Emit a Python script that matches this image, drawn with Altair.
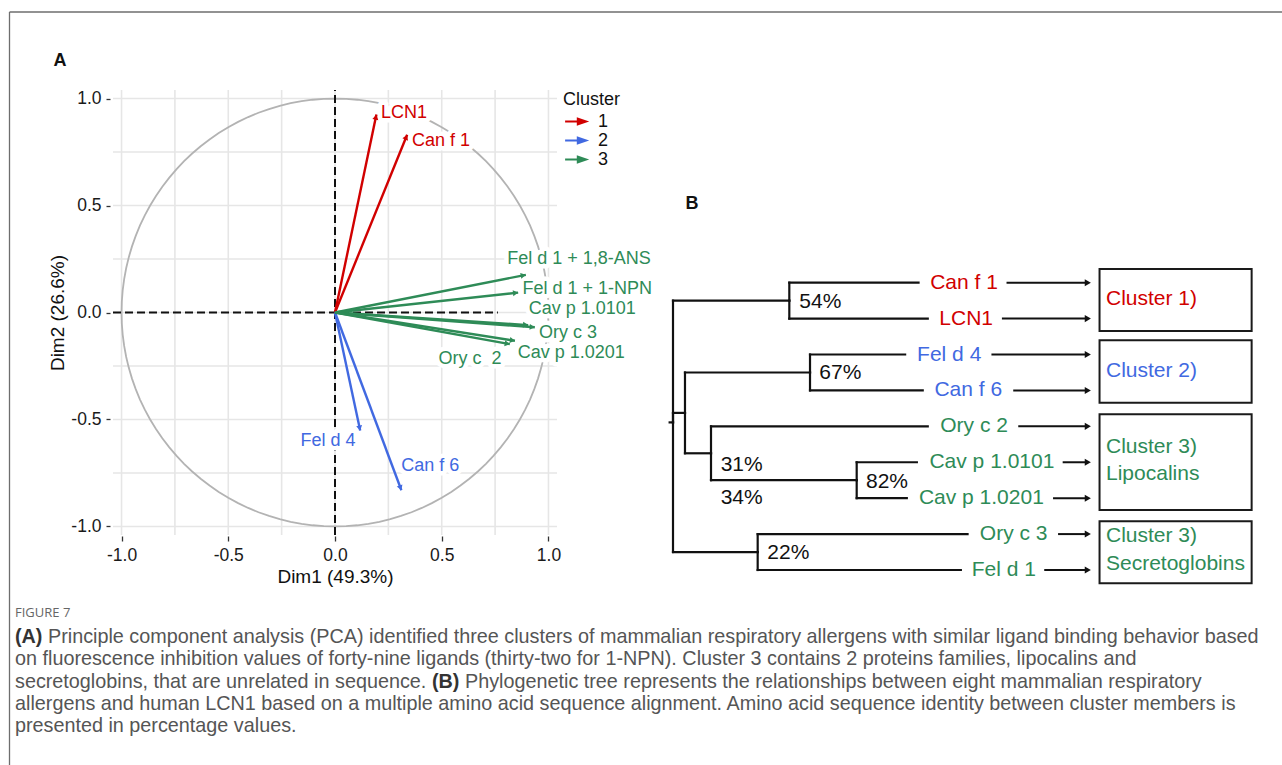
import altair as alt
import pandas as pd

FONT = "Liberation Sans"
CAP_FONT = "Liberation Sans"

cluster_names = ["1", "2", "3"]
cluster_colors = ["#D10000", "#4169E1", "#2E8B57"]

# ---------------- Panel A: PCA variable plot ----------------
var_names = ["LCN1", "Can f 1", "Fel d 4", "Can f 6", "Fel d 1 + 1,8-ANS",
             "Fel d 1 + 1-NPN", "Cav p 1.0101", "Ory c 3", "Cav p 1.0201", "Ory c\u00a0\u00a02"]
var_cluster = ["1", "1", "2", "2", "3", "3", "3", "3", "3", "3"]
dim1 = [0.194, 0.338, 0.118, 0.311, 0.894, 0.858, 0.905, 0.936, 0.843, 0.819]
dim2 = [0.925, 0.831, -0.552, -0.831, 0.176, 0.093, -0.059, -0.069, -0.132, -0.148]
label_dim1 = [0.323, 0.497, -0.033, 0.446, 1.143, 1.182, 1.158, 1.092, 1.107, 0.632]
label_dim2 = [0.933, 0.800, -0.599, -0.719, 0.251, 0.110, 0.0155, -0.096, -0.191, -0.219]

major_breaks = [-1.0, -0.5, 0.0, 0.5, 1.0]
minor_breaks = [-0.75, -0.25, 0.25, 0.75]
axis_limits = [-1.04, 1.04]
hline_extent = [-1.04, 0.763]

# ---------------- Panel B: tree ----------------
leaf_names = ["Can f 1", "LCN1", "Fel d 4", "Can f 6", "Ory c 2",
              "Cav p 1.0101", "Cav p 1.0201", "Ory c 3", "Fel d 1"]
leaf_cluster = ["1", "1", "2", "2", "3", "3", "3", "3", "3"]
leaf_pos = [0, 1, 2, 3, 4, 5, 6, 7, 8]
leaf_parent = ["n54", "n54", "n67", "n67", "n31", "n82", "n82", "n22", "n22"]
leaf_branch_end = [0.586, 0.608, 0.554, 0.596, 0.608, 0.582, 0.558, 0.703, 0.687]
leaf_label_x = [0.6945, 0.6997, 0.6592, 0.7048, 0.7186, 0.7611, 0.736, 0.8131, 0.7897]
leaf_arrow_start = [0.796, 0.785, 0.760, 0.812, 0.824, 0.930, 0.907, 0.919, 0.886]
arrow_tip = 0.99

node_names = ["root", "n54", "nA", "n67", "n31", "n82", "n22"]
node_depth = [0.0, 0.2776, 0.0286, 0.327, 0.0907, 0.4384, 0.2021]
node_pos = [3.89, 0.5, 3.625, 2.5, 4.75, 5.5, 7.5]
node_parent = ["", "root", "root", "nA", "nA", "n31", "root"]
root_stub = -0.008

pct_labels = ["54%", "67%", "31%", "34%", "82%", "22%"]
pct_x = [0.3014, 0.3492, 0.1138, 0.1138, 0.4606, 0.2251]
pct_y = [0.546, 2.524, 5.078, 6.006, 5.543, 7.538]

box_x0 = [1.018, 1.018, 1.018, 1.018]
box_x1 = [1.381, 1.381, 1.381, 1.381]
box_y0 = [-0.38, 1.60, 3.66, 6.64]
box_y1 = [1.345, 3.34, 6.33, 8.37]
box_text = ["Cluster 1)", "Cluster 2)", "Cluster 3)", "Lipocalins", "Cluster 3)", "Secretoglobins"]
box_text_cluster = ["1", "2", "3", "3", "3", "3"]
box_text_y = [0.45, 2.45, 4.57, 5.33, 7.06, 7.82]
box_text_x = [1.0334] * 6

# ---------------- Caption ----------------
caption_regular = [
    "Principle component analysis (PCA) identified three clusters of mammalian respiratory allergens with similar ligand binding behavior based",
    "on fluorescence inhibition values of forty-nine ligands (thirty-two for 1-NPN). Cluster 3 contains 2 proteins families, lipocalins and",
    "secretoglobins, that are unrelated in sequence.",
    "Phylogenetic tree represents the relationships between eight mammalian respiratory",
    "allergens and human LCN1 based on a multiple amino acid sequence alignment. Amino acid sequence identity between cluster members is",
    "presented in percentage values.",
]
caption_regular_line = [0, 1, 2, 2, 3, 4]
caption_regular_x = [48, 15, 15, 465, 15, 15]
caption_bold = ["(A)", "(B)"]
caption_bold_line = [0, 2]
caption_bold_x = [15, 432]

# ---------------- Data frames ----------------
pca_df = pd.DataFrame({"name": var_names, "cluster": var_cluster, "d1": dim1, "d2": dim2,
                       "lx": label_dim1, "ly": label_dim2, "ox": 0.0, "oy": 0.0})

grid_rows = []
for v in major_breaks + minor_breaks:
    grid_rows.append({"x1": v, "x2": v, "y1": axis_limits[0], "y2": axis_limits[1]})
    grid_rows.append({"x1": axis_limits[0], "x2": axis_limits[1], "y1": v, "y2": v})
grid_df = pd.DataFrame(grid_rows)

dash_df = pd.DataFrame({"x1": [hline_extent[0], 0.0], "x2": [hline_extent[1], 0.0],
                        "y1": [0.0, axis_limits[0]], "y2": [0.0, axis_limits[1]]})

pos = {n: (x, y) for n, x, y in zip(node_names, node_depth, node_pos)}
parents = dict(zip(node_names, node_parent))
for n, x, y, p in zip(leaf_names, leaf_branch_end, leaf_pos, leaf_parent):
    pos[n] = (x, y)
    parents[n] = p
seg_rows = []
for n, (x, y) in pos.items():
    p = parents[n]
    if p:
        px, py = pos[p]
        seg_rows.append({"x1": px, "x2": x, "y1": y, "y2": y})
        seg_rows.append({"x1": px, "x2": px, "y1": py, "y2": y})
    else:
        seg_rows.append({"x1": root_stub, "x2": x, "y1": y, "y2": y})
seg_df = pd.DataFrame(seg_rows)

leaf_df = pd.DataFrame({"name": leaf_names, "cluster": leaf_cluster, "pos": leaf_pos,
                        "lx": leaf_label_x, "a0": leaf_arrow_start, "a1": arrow_tip})
pct_df = pd.DataFrame({"t": pct_labels, "x": pct_x, "y": pct_y})
box_df = pd.DataFrame({"x0": box_x0, "x1": box_x1, "y0": box_y0, "y1": box_y1})
boxtext_df = pd.DataFrame({"t": box_text, "cluster": box_text_cluster, "x": box_text_x, "y": box_text_y})
cap_df = pd.DataFrame({"t": caption_regular, "line": caption_regular_line, "x": caption_regular_x})
capb_df = pd.DataFrame({"t": caption_bold, "line": caption_bold_line, "x": caption_bold_x})
one = pd.DataFrame({"k": [0]})

# ---------------- Scales ----------------
xA = alt.Scale(domain=axis_limits, range=[113, 557], nice=False, zero=False)
yA = alt.Scale(domain=axis_limits, range=[535, 90], nice=False, zero=False)
xB = alt.Scale(domain=[0, 1], range=[673, 1092], nice=False, zero=False)
yB = alt.Scale(domain=[0, 8], range=[282.7, 570], nice=False, zero=False)
yC = alt.Scale(domain=[0, 4], range=[637, 726], nice=False, zero=False)

legend = alt.Legend(
    title="Cluster", orient="none", legendX=563, legendY=91,
    symbolType="M-1.3,0L0.55,0M0.3,-0.35L1.3,0L0.3,0.35Z",
    symbolSize=256, symbolStrokeWidth=2.2, symbolOffset=3,
    titleFont=FONT, titleFontSize=18, titleFontWeight="normal", titleColor="#111",
    labelFont=FONT, labelFontSize=18, labelColor="#111",
    titlePadding=3, rowPadding=0, labelOffset=13,
)
color = alt.Color("cluster:N", scale=alt.Scale(domain=cluster_names, range=cluster_colors), legend=legend)

def X(f, s):
    return alt.X(f, type="quantitative", scale=s, axis=None)

def Y(f, s):
    return alt.Y(f, type="quantitative", scale=s, axis=None)

neg_fmt = "datum.value < 0 ? '-' + format(-datum.value, '.1f') : format(datum.value, '.1f')"

# grid + axes
grid = alt.Chart(grid_df).mark_rule(color="#E6E6E6", strokeWidth=1.6).encode(
    x=alt.X("x1:Q", scale=xA, axis=alt.Axis(
        values=major_breaks, labelExpr=neg_fmt, orient="bottom", offset=-229, grid=False,
        domain=False, tickSize=5, tickColor="#333", tickWidth=1.3,
        labelFont=FONT, labelFontSize=17.5, labelColor="#1a1a1a", labelPadding=5,
        title="Dim1 (49.3%)", titleFont=FONT, titleFontSize=19, titleFontWeight="normal",
        titleColor="#111", titlePadding=4)),
    x2="x2:Q",
    y=alt.Y("y1:Q", scale=yA, axis=alt.Axis(
        values=major_breaks, labelExpr=neg_fmt, orient="left", offset=-110, grid=False,
        domain=False, tickSize=4, tickColor="#333", tickWidth=1.3,
        labelFont=FONT, labelFontSize=17.5, labelColor="#1a1a1a", labelPadding=5,
        title="Dim2 (26.6%)", titleFont=FONT, titleFontSize=19, titleFontWeight="normal",
        titleColor="#111", titlePadding=3)),
    y2="y2:Q",
)

circle = alt.Chart(alt.sequence(0, 361, 3, as_="t")).transform_calculate(
    cx="cos(datum.t*PI/180)", cy="sin(datum.t*PI/180)"
).mark_line(color="#B3B3B3", strokeWidth=1.8).encode(
    x=X("cx", xA), y=Y("cy", yA), order="t:Q")

dashes = alt.Chart(dash_df).mark_rule(color="#111", strokeWidth=2, strokeDash=[8, 4]).encode(
    x=X("x1", xA), x2="x2:Q", y=Y("y1", yA), y2="y2:Q")

halo = alt.Chart(pca_df).mark_text(font=FONT, fontSize=18, stroke="white", strokeWidth=9,
                                   fill="white", strokeJoin="round").encode(
    x=X("lx", xA), y=Y("ly", yA), text="name:N")

arrows = alt.Chart(pca_df).mark_rule(strokeWidth=2.4).encode(
    x=X("ox", xA), y=Y("oy", yA), x2="d1:Q", y2="d2:Q", color=color)

heads = alt.Chart(pca_df).transform_calculate(
    ang="atan2(datum.d2, datum.d1)"
).transform_calculate(
    rot="(90 - datum.ang*180/PI + 360) % 360",
    hx="datum.d1 - 0.012*cos(datum.ang)",
    hy="datum.d2 - 0.012*sin(datum.ang)",
).mark_point(shape="triangle-up", filled=True, size=36, opacity=1).encode(
    x=X("hx", xA), y=Y("hy", yA), angle=alt.Angle("rot:Q", scale=None), color=color)

labels = alt.Chart(pca_df).mark_text(font=FONT, fontSize=18).encode(
    x=X("lx", xA), y=Y("ly", yA), text="name:N", color=color)

# tree
tree = alt.Chart(seg_df).mark_rule(color="#111", strokeWidth=2.2, strokeCap="square").encode(
    x=X("x1", xB), x2="x2:Q", y=Y("y1", yB), y2="y2:Q")

leaf_text = alt.Chart(leaf_df).mark_text(font=FONT, fontSize=21).encode(
    x=X("lx", xB), y=Y("pos", yB), text="name:N", color=color)

leaf_arrow = alt.Chart(leaf_df).mark_rule(color="#111", strokeWidth=2).encode(
    x=X("a0", xB), x2="a1:Q", y=Y("pos", yB))

leaf_head = alt.Chart(leaf_df).mark_point(shape="triangle-right", filled=True, size=50,
                                          color="#111", opacity=1).encode(
    x=X("a1", xB), y=Y("pos", yB))

pct = alt.Chart(pct_df).mark_text(font=FONT, fontSize=21, align="left", color="#111").encode(
    x=X("x", xB), y=Y("y", yB), text="t:N")

boxes = alt.Chart(box_df).mark_rect(fill="transparent", stroke="#1a1a1a", strokeWidth=2).encode(
    x=X("x0", xB), x2="x1:Q", y=Y("y0", yB), y2="y1:Q")

box_lbl = alt.Chart(boxtext_df).mark_text(font=FONT, fontSize=21, align="left").encode(
    x=X("x", xB), y=Y("y", yB), text="t:N", color=color)

# panel letters, frame and caption
letter_a = alt.Chart(one).mark_text(text="A", font=FONT, fontSize=18, fontWeight="bold",
                                    color="#111").encode(x=alt.value(60), y=alt.value(61))
letter_b = alt.Chart(one).mark_text(text="B", font=FONT, fontSize=18, fontWeight="bold",
                                    color="#111").encode(x=alt.value(692), y=alt.value(204))
frame_top = alt.Chart(one).mark_rule(color="#6E6E6E", strokeWidth=1.3).encode(
    x=alt.value(9.5), x2=alt.value(1282), y=alt.value(12))
frame_left = alt.Chart(one).mark_rule(color="#6E6E6E", strokeWidth=1.3).encode(
    x=alt.value(9.5), y=alt.value(12), y2=alt.value(765))

fig_label = alt.Chart(one).mark_text(text="FIGURE 7", font="Open Sans", fontSize=13, align="left",
                                     color="#666").encode(x=alt.value(15), y=alt.value(613))
cap = alt.Chart(cap_df).mark_text(font=CAP_FONT, fontSize=19.8, align="left", color="#555555").encode(
    x=alt.X("x:Q", scale=None, axis=None), y=Y("line", yC), text="t:N")
capb = alt.Chart(capb_df).mark_text(font=CAP_FONT, fontSize=19.8, fontWeight="bold", align="left",
                                    color="#333").encode(
    x=alt.X("x:Q", scale=None, axis=None), y=Y("line", yC), text="t:N")

chart = alt.layer(
    frame_top, frame_left, grid, circle, dashes, halo, arrows, heads, labels,
    tree, leaf_arrow, leaf_head, leaf_text, pct, boxes, box_lbl,
    letter_a, letter_b, fig_label, cap, capb,
).resolve_scale(x="independent", y="independent", color="shared").properties(
    width=1282, height=765, padding=0, autosize=alt.AutoSizeParams(type="none"),
    background="white",
).configure_view(stroke=None)

chart.save("out.html", embed_options={"renderer": "svg", "actions": False})
